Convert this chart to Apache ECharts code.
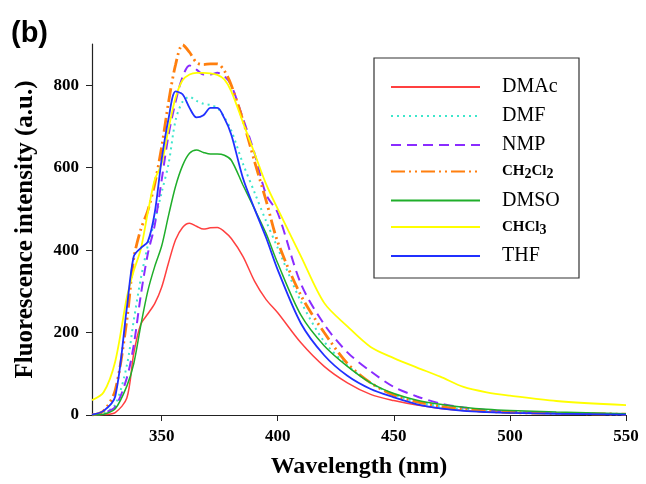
<!DOCTYPE html>
<html>
<head>
<meta charset="utf-8">
<script src="https://cdn.jsdelivr.net/npm/echarts@6/dist/echarts.min.js"></script>
<style>
html, body { margin: 0; padding: 0; background: #fff; }
#chartContent { width: 646px; height: 484px; }
</style>
</head>
<body>
<div id="chartContent"></div>
<script>
// wavelength (nm), shared by every curve
var wavelength = [320, 325, 330, 335, 338, 341, 344, 347, 350, 353, 356, 359, 362, 365, 368, 371, 374, 377, 380,
	385, 390, 395, 400, 410, 420, 430, 440, 450, 460, 470, 480, 490, 500, 520, 550];
// fluorescence intensity (a.u.) per solvent
var dmac = [0, 1, 6, 41, 150, 220, 245, 270, 310, 370, 425, 455, 465, 458, 451, 454, 455, 445, 428,
	385, 325, 280, 248, 175, 118, 78, 50, 35, 24, 16, 11, 8, 6, 4, 2];
var dmf = [0, 5, 25, 120, 230, 330, 410, 470, 540, 610, 715, 760, 772, 762, 755, 752, 745, 722, 690,
	610, 540, 470, 405, 275, 178, 120, 78, 50, 32, 21, 14, 10, 7, 4, 2];
var nmp = [0, 5, 20, 90, 170, 290, 390, 460, 570, 680, 760, 820, 848, 838, 826, 826, 830, 822, 800,
	720, 635, 535, 490, 318, 220, 152, 106, 68, 45, 28, 18, 12, 8, 4, 2];
var ch2cl2 = [0, 10, 60, 230, 380, 450, 495, 560, 650, 760, 850, 898, 880, 855, 850, 852, 852, 835, 800,
	715, 615, 520, 420, 290, 200, 125, 78, 48, 32, 21, 14, 9, 6, 4, 2];
var dmso = [0, 2, 15, 70, 125, 217, 300, 360, 410, 485, 555, 605, 635, 643, 637, 633, 633, 630, 618,
	558, 500, 440, 368, 242, 168, 118, 78, 52, 36, 26, 19, 14, 11, 7, 3];
var chcl3 = [36, 55, 130, 285, 350, 402, 490, 570, 610, 695, 770, 812, 826, 830, 830, 829, 825, 814, 785,
	710, 635, 560, 500, 385, 272, 215, 165, 138, 115, 93, 68, 55, 47, 34, 24];
var thf = [1, 10, 45, 260, 385, 405, 420, 490, 620, 720, 785, 778, 745, 722, 727, 745, 745, 720, 680,
	575, 500, 430, 352, 222, 145, 95, 63, 43, 26, 16, 10, 7, 5, 3, 1];

var xTicks = [350, 400, 450, 500, 550];
var yTicks = [0, 200, 400, 600, 800];
var legendData = ['DMAc', 'DMF', 'NMP', 'CH2Cl2', 'DMSO', 'CHCl3', 'THF'];

function toPairs(vals) {
	var arr = [];
	for (var i = 0; i < wavelength.length; i++) {
		arr.push([wavelength[i], vals[i]]);
	}
	return arr;
}

function makeSeries(name, vals, color, width, type) {
	return {
		name: name,
		type: 'line',
		smooth: 0.3,
		showSymbol: false,
		symbol: 'none',
		data: toPairs(vals),
		lineStyle: {
			color: color,
			width: width,
			type: type
		},
		itemStyle: { color: color }
	};
}

var series = [
	makeSeries('DMAc', dmac, '#ff4040', 1.5, 'solid'),
	makeSeries('DMF', dmf, '#3ee6cc', 2, [2, 4]),
	makeSeries('NMP', nmp, '#8a2cff', 2, [10, 6]),
	makeSeries('CH2Cl2', ch2cl2, '#ff7f0e', 2.8, [14, 4, 2, 4, 2, 4]),
	makeSeries('DMSO', dmso, '#1fae2a', 1.5, 'solid'),
	makeSeries('CHCl3', chcl3, '#ffff00', 1.8, 'solid'),
	makeSeries('THF', thf, '#2030ff', 1.8, 'solid')
];

var serif = '"Liberation Serif", "Times New Roman", serif';

var myChart = echarts.init(document.getElementById('chartContent'));
var option = {
	animation: false,
	backgroundColor: '#fff',
	title: {
		text: '(b)',
		left: 6,
		top: 14,
		textStyle: {
			fontFamily: '"Liberation Sans", Arial, sans-serif',
			fontSize: 29,
			fontWeight: 'bold',
			color: '#000'
		}
	},
	grid: {
		left: 92,
		right: 20,
		top: 44,
		bottom: 67,
		containLabel: false
	},
	legend: {
		data: legendData,
		orient: 'vertical',
		left: 385,
		top: 72,
		itemWidth: 89,
		itemHeight: 14,
		itemGap: 9,
		selectedMode: false,
		itemStyle: { color: 'rgba(0,0,0,0)', borderWidth: 0, opacity: 0 }, //只留图例里的线
		formatter: function(name) {
			if (name == 'CH2Cl2') return '{c|CH}{s|2}{c|Cl}{s|2}';
			if (name == 'CHCl3') return '{c|CHCl}{s|3}';
			return '{n|' + name + '}';
		},
		textStyle: {
			padding: [0, 0, 0, 17],
			rich: {
				n: { fontFamily: serif, fontSize: 20, color: '#000', lineHeight: 20 },
				c: { fontFamily: serif, fontSize: 15, fontWeight: 'bold', color: '#000', lineHeight: 20 },
				s: { fontFamily: serif, fontSize: 14, fontWeight: 'bold', color: '#000', lineHeight: 12, verticalAlign: 'bottom' }
			}
		}
	},
	graphic: [{
		type: 'rect',
		shape: { x: 374, y: 58, width: 205, height: 220 },
		style: { fill: 'none', stroke: '#333', lineWidth: 1.2 },
		z: 0
	}],
	xAxis: {
		type: 'value',
		min: 320,
		max: 550,
		name: 'Wavelength (nm)',
		nameLocation: 'middle',
		nameGap: 40,
		nameTextStyle: { fontFamily: serif, fontSize: 24, fontWeight: 'bold', color: '#000' },
		splitLine: { show: false },
		axisLine: { lineStyle: { color: '#222', width: 1.2 } },
		axisTick: { customValues: xTicks, length: 6, lineStyle: { color: '#222' } },
		axisLabel: {
			customValues: xTicks,
			margin: 13,
			fontFamily: serif,
			fontSize: 17,
			fontWeight: 'bold',
			color: '#000'
		}
	},
	yAxis: {
		type: 'value',
		min: 0,
		max: 900,
		name: 'Fluorescence intensity (a.u.)',
		nameLocation: 'middle',
		nameGap: 54,
		nameTextStyle: { fontFamily: serif, fontSize: 25, fontWeight: 'bold', color: '#000' },
		splitLine: { show: false },
		axisLine: { show: true, lineStyle: { color: '#222', width: 1.2 } },
		axisTick: { show: true, customValues: yTicks, length: 6, lineStyle: { color: '#222' } },
		axisLabel: {
			customValues: yTicks,
			margin: 13,
			fontFamily: serif,
			fontSize: 17,
			fontWeight: 'bold',
			color: '#000'
		}
	},
	series: series
};
myChart.setOption(option);
</script>
</body>
</html>
